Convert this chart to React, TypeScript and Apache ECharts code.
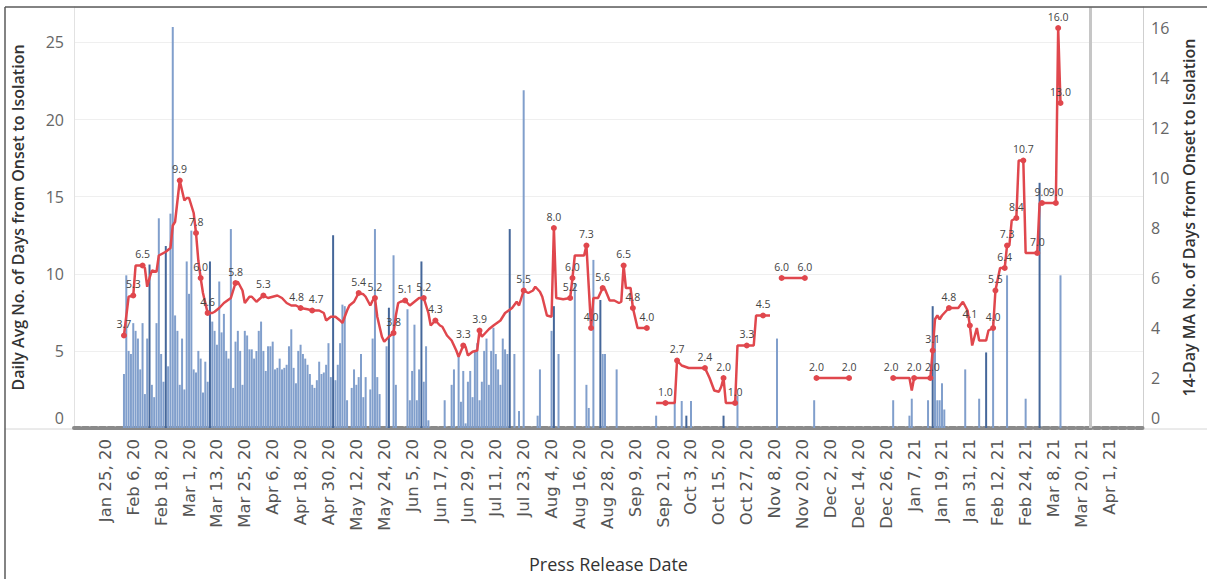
import React, { useEffect, useRef } from "react";
import * as echarts from "echarts";

// ---------- axis definition ----------
const AXIS_START = "2020-01-12";
const AXIS_DAYS = 460;
const LABEL_FIRST = "2020-01-25";
const LABEL_LAST = "2021-04-01";
const LABEL_STEP_DAYS = 12;
const REF_LINE_DATE = "2021-03-24";
const MONTHS = ["Jan", "Feb", "Mar", "Apr", "May", "Jun", "Jul", "Aug", "Sep", "Oct", "Nov", "Dec"];

const leftMax = 27.3;
const leftStep = 5;
const rightMax = 16.84;
const rightStep = 2;

// ---------- daily average bars ----------
const denseBarStart = "2020-02-02";
const denseBars: (number | null)[] = [
  3.5, 9.9, 5.0, 4.8, 6.8, 6.3, 5.8, 3.8, 6.8, 2.2, 5.8, 10.6, 2.8, 2.0, 6.8, 13.6, 4.8, 3.0, 11.8, 4.0,
  13.9, 26.0, 7.3, 6.3, 2.8, 5.8, 2.5, 10.8, 8.7, 12.8, 3.8, 3.6, 5.0, 4.5, 2.3, 4.3, 3.0, 10.8, 6.9, 6.3,
  5.4, 9.5, 6.2, 7.4, 5.0, 4.5, 12.9, 2.6, 5.6, 6.3, 5.0, 2.8, 6.3, 6.0, 5.1, 5.1, 4.5, 5.0, 6.3, 6.9,
  5.0, 3.7, 5.3, 5.3, 5.6, 3.8, 3.9, 4.5, 3.8, 3.9, 4.1, 5.3, 6.4, 3.9, 2.9, 5.0, 5.4, 4.8, 4.5, 4.1,
  3.5, 2.8, 2.6, 3.1, 4.3, 3.5, 3.6, 4.1, 5.5, 3.3, 12.5, 3.1, 4.1, 5.5, 8.0, 7.9, 1.8, null, 2.6, 3.8,
  2.8, 3.3, 4.8, 2.0, 3.3, null, 2.5, 5.8, 12.9, 3.3, 2.2, null, null, 5.3, 7.8, null, 11.2, 2.8, null, null,
  null, null, 7.7, 1.8, 3.7, 6.7, 1.8, 3.8, 10.8, 3.0, 5.3, 0.5, null, null, null, null, null, null, 1.8, null,
  null, 2.8, 3.8, null, 4.8, 1.7, 3.7, 0.3, 3.0, 3.7, 2.0, 5.0, 5.5, 1.8, 3.0, 5.0, 5.8, 2.8, 5.0, 6.5,
  4.8, 3.8, 2.8, 5.8, 5.1, 4.8, 12.9, null, 4.8, null, 1.1, null, 21.9, null, null, null, null, null, 0.8, 3.8,
  null, null, null, null, 6.3, 7.9, null, 4.8,
];
const sparseBarDates = [
  "2020-08-14", "2020-08-19", "2020-08-20", "2020-08-22", "2020-08-25", "2020-08-26", "2020-08-27", "2020-09-01",
  "2020-09-18", "2020-09-26", "2020-09-29", "2020-10-01", "2020-10-03", "2020-10-17", "2020-10-23", "2020-11-09",
  "2020-11-25", "2020-12-29", "2021-01-05", "2021-01-06", "2021-01-13", "2021-01-15", "2021-01-16", "2021-01-17",
  "2021-01-18", "2021-01-19", "2021-01-20", "2021-01-29", "2021-02-04", "2021-02-07", "2021-02-10", "2021-02-16",
  "2021-02-24", "2021-03-02", "2021-03-11",
];
const sparseBarValues = [
  9.4, 2.8, 1.3, 10.9, 8.3, 4.8, 4.8, 3.8,
  0.8, 1.75, 1.75, 0.8, 1.75, 0.8, 2.1, 5.8,
  1.8, 1.8, 0.8, 1.9, 1.8, 7.9, 6.0, 1.8,
  1.8, 2.9, 1.2, 3.8, 1.9, 4.9, 6.9, 9.9,
  1.9, 15.9, 9.9,
];
const darkBarDates = [
  "2020-02-13", "2020-02-20", "2020-03-10", "2020-05-02", "2020-05-26", "2020-06-09", "2020-07-17",
  "2020-08-05", "2020-08-25", "2020-10-01", "2020-10-17", "2021-01-15", "2021-02-07", "2021-03-02",
];

// ---------- 14-day moving average line (null = gap) ----------
const maDates = [
  "2020-02-02", "2020-02-04", "2020-02-06", "2020-02-07", "2020-02-09", "2020-02-10", "2020-02-11", "2020-02-12",
  "2020-02-13", "2020-02-14", "2020-02-16", "2020-02-17", "2020-02-20", "2020-02-22", "2020-02-23", "2020-02-24",
  "2020-02-26", "2020-02-28", "2020-02-29", "2020-03-01", "2020-03-03", "2020-03-04", "2020-03-05", "2020-03-06",
  "2020-03-07", "2020-03-09", "2020-03-11", "2020-03-12", "2020-03-14", "2020-03-16", "2020-03-19", "2020-03-21",
  "2020-03-22", "2020-03-24", "2020-03-25", "2020-03-27", "2020-03-28", "2020-03-30", "2020-04-02", "2020-04-04",
  "2020-04-06", "2020-04-08", "2020-04-10", "2020-04-12", "2020-04-14", "2020-04-16", "2020-04-18", "2020-04-21",
  "2020-04-23", "2020-04-26", "2020-04-28", "2020-04-29", "2020-05-01", "2020-05-03", "2020-05-05", "2020-05-06",
  "2020-05-08", "2020-05-09", "2020-05-11", "2020-05-13", "2020-05-15", "2020-05-16", "2020-05-18", "2020-05-19",
  "2020-05-20", "2020-05-21", "2020-05-23", "2020-05-24", "2020-05-26", "2020-05-28", "2020-05-29", "2020-05-30",
  "2020-05-31", "2020-06-02", "2020-06-04", "2020-06-06", "2020-06-08", "2020-06-10", "2020-06-12", "2020-06-13",
  "2020-06-15", "2020-06-17", "2020-06-18", "2020-06-20", "2020-06-22", "2020-06-24", "2020-06-25", "2020-06-27",
  "2020-06-28", "2020-06-29", "2020-07-01", "2020-07-03", "2020-07-04", "2020-07-05", "2020-07-07", "2020-07-08",
  "2020-07-10", "2020-07-13", "2020-07-15", "2020-07-18", "2020-07-20", "2020-07-21", "2020-07-23", "2020-07-25",
  "2020-07-27", "2020-07-28", "2020-07-30", "2020-07-31", "2020-08-02", "2020-08-04", "2020-08-05", "2020-08-06",
  "2020-08-09", "2020-08-12", "2020-08-13", "2020-08-14", "2020-08-18", "2020-08-19", "2020-08-21", "2020-08-22",
  "2020-08-24", "2020-08-26", "2020-08-27", "2020-08-29", "2020-08-31", "2020-09-02", "2020-09-03", "2020-09-04",
  "2020-09-05", "2020-09-07", "2020-09-08", "2020-09-10", "2020-09-12", "2020-09-14", "2020-09-15",
  "2020-09-18", "2020-09-22", "2020-09-26", "2020-09-27", "2020-09-29", "2020-10-02", "2020-10-09", "2020-10-11",
  "2020-10-13", "2020-10-15", "2020-10-16", "2020-10-17", "2020-10-18", "2020-10-22", "2020-10-23", "2020-10-27",
  "2020-10-30", "2020-10-31", "2020-11-03", "2020-11-06", "2020-11-07",
  "2020-11-11", "2020-11-21", "2020-11-22",
  "2020-11-26", "2020-12-10", "2020-12-11",
  "2020-12-29", "2021-01-05", "2021-01-06", "2021-01-07", "2021-01-14", "2021-01-15", "2021-01-16", "2021-01-17",
  "2021-01-18", "2021-01-19", "2021-01-22", "2021-01-26", "2021-01-28", "2021-01-30", "2021-01-31", "2021-02-01",
  "2021-02-03", "2021-02-04", "2021-02-07", "2021-02-08", "2021-02-10", "2021-02-11", "2021-02-13", "2021-02-15",
  "2021-02-16", "2021-02-17", "2021-02-18", "2021-02-20", "2021-02-21", "2021-02-23", "2021-02-24", "2021-03-01",
  "2021-03-02", "2021-03-03", "2021-03-09", "2021-03-10", "2021-03-11",
];
const maValues: (number | null)[] = [
  3.7, 5.25, 5.3, 6.5, 6.5, 6.5, 6.4, 5.65,
  6.0, 6.3, 6.25, 6.9, 7.05, 7.2, 8.1, 8.25,
  9.9, 9.1, 9.2, 9.2, 8.6, 7.8, 6.7, 6.0,
  5.4, 4.6, 4.6, 4.65, 4.8, 5.0, 5.2, 5.8,
  5.85, 5.5, 5.0, 5.25, 5.25, 5.05, 5.3, 5.2,
  5.25, 5.3, 5.2, 5.0, 4.9, 4.9, 4.8, 4.75,
  4.7, 4.7, 4.6, 4.3, 4.45, 4.45, 4.3, 4.2,
  4.7, 4.9, 5.05, 5.4, 5.35, 5.25, 4.9, 5.1,
  5.2, 4.45, 3.65, 3.45, 3.65, 3.8, 4.5, 5.0,
  5.05, 5.1, 4.9, 5.05, 5.2, 5.2, 4.6, 4.1,
  4.3, 4.1, 4.05, 3.7, 3.5, 3.1, 2.85, 3.3,
  3.25, 2.9, 3.05, 3.1, 3.9, 3.65, 3.85, 3.95,
  4.1, 4.3, 4.6, 4.8, 5.05, 4.9, 5.5, 5.4,
  5.5, 5.65, 5.45, 5.25, 4.5, 4.45, 8.0, 5.2,
  5.15, 5.2, 6.0, 6.9, 6.9, 7.3, 4.0, 5.2,
  5.2, 5.6, 5.55, 5.1, 5.1, 5.0, 5.05, 6.5,
  5.6, 5.6, 4.8, 4.0, 4.0, 4.0, null,
  1.0, 1.0, 1.0, 2.7, 2.5, 2.4, 2.4, 2.0,
  1.5, 1.45, 1.65, 2.0, 1.0, 1.0, 3.3, 3.3,
  3.3, 4.5, 4.5, 4.5, null,
  6.0, 6.0, null,
  2.0, 2.0, null,
  2.0, 2.0, 1.5, 2.0, 2.0, 3.1, 4.35, 4.5,
  4.35, 4.5, 4.8, 4.8, 5.05, 4.7, 4.1, 3.3,
  4.0, 3.5, 3.5, 3.9, 4.0, 5.5, 6.4, 6.4,
  7.3, 7.3, 8.3, 8.4, 10.7, 10.7, 7.0, 7.0,
  9.0, 9.0, 9.0, 16.0, 13.0,
];
const maLabeledDates = [
  "2020-02-02", "2020-02-06", "2020-02-10", "2020-02-26", "2020-03-04", "2020-03-06", "2020-03-09", "2020-03-21",
  "2020-04-02", "2020-04-18", "2020-04-23", "2020-05-13", "2020-05-20", "2020-05-28", "2020-06-02", "2020-06-10",
  "2020-06-15", "2020-06-27", "2020-07-04", "2020-07-23", "2020-08-05", "2020-08-12", "2020-08-13", "2020-08-19",
  "2020-08-21", "2020-08-26", "2020-09-04", "2020-09-08", "2020-09-14", "2020-09-22", "2020-09-27", "2020-10-09",
  "2020-10-17", "2020-10-22", "2020-10-27", "2020-11-03", "2020-11-11", "2020-11-21", "2020-11-26", "2020-12-10",
  "2020-12-29", "2021-01-07", "2021-01-14", "2021-01-15", "2021-01-22", "2021-01-31", "2021-02-10", "2021-02-11",
  "2021-02-15", "2021-02-16", "2021-02-20", "2021-02-23", "2021-03-01", "2021-03-03", "2021-03-09", "2021-03-10",
  "2021-03-11",
];
// small nudges for labels that would touch their neighbours
const labelNudge: Record<string, [number, number]> = {
  "2020-04-18": [-4, 0],
  "2020-04-23": [4, 0],
  "2020-12-29": [-2, 0],
  "2021-01-14": [2, 0],
};

// ---------- helpers ----------
const DAY = 86400000;
const toMs = (iso: string) => {
  const [y, m, d] = iso.split("-").map(Number);
  return Date.UTC(y, m - 1, d);
};
const startMs = toMs(AXIS_START);
const toIdx = (iso: string) => Math.round((toMs(iso) - startMs) / DAY);
const categories: string[] = [];
for (let k = 0; k < AXIS_DAYS; k++) categories.push(new Date(startMs + k * DAY).toISOString().slice(0, 10));
const fmtDate = (iso: string) => {
  const [y, m, d] = iso.split("-");
  return `${MONTHS[Number(m) - 1]} ${Number(d)}, ${y.slice(2)}`;
};

const BAR_COLOR = "#819fcc";
const BAR_DARK = "#45679a";
const LINE_COLOR = "#e0474d";
const FONT = "'Open Sans', 'Noto Sans', sans-serif";

export default function App() {
  const ref = useRef<HTMLDivElement>(null);

  useEffect(() => {
    if (!ref.current) return;
    const chart = echarts.init(ref.current, undefined, { renderer: "svg" });

    const barMap = new Map<string, number>();
    const d0 = toIdx(denseBarStart);
    denseBars.forEach((v, k) => {
      if (v !== null) barMap.set(categories[d0 + k], v);
    });
    sparseBarDates.forEach((d, k) => barMap.set(d, sparseBarValues[k]));
    const darkSet = new Set(darkBarDates);
    const barData = categories.map((c) =>
      barMap.has(c)
        ? { value: barMap.get(c), itemStyle: { color: darkSet.has(c) ? BAR_DARK : BAR_COLOR } }
        : "-"
    );

    const labeledSet = new Set(maLabeledDates);
    const lineData = maDates.map((d, k) => {
      const v = maValues[k];
      if (v === null) return { value: [toIdx(d), "-"] };
      if (labeledSet.has(d)) {
        return {
          value: [toIdx(d), v],
          symbol: "circle",
          symbolSize: 6,
          label: { show: true, offset: labelNudge[d] || [0, 0] },
        };
      }
      return { value: [toIdx(d), v], symbol: "none" };
    });

    const firstLab = toIdx(LABEL_FIRST);
    const lastLab = toIdx(LABEL_LAST);

    const axisNum = { fontSize: 16, color: "#666", fontFamily: FONT };

    chart.setOption({
      animation: false,
      backgroundColor: "#ffffff",
      grid: { left: 74, right: 64, top: 7, bottom: 151, containLabel: false },
      xAxis: {
        type: "category",
        data: categories,
        boundaryGap: true,
        offset: 3,
        axisLine: { show: true, lineStyle: { color: "#8a8a8a", width: 4, type: [6, 2.5] } },
        axisTick: { show: false },
        splitLine: { show: false },
        axisLabel: {
          interval: (i: number) => i >= firstLab && i <= lastLab && (i - firstLab) % LABEL_STEP_DAYS === 0,
          rotate: 90,
          margin: 8,
          fontSize: 16.5,
          color: "#555",
          fontFamily: "'DejaVu Sans', sans-serif",
          formatter: (v: string) => fmtDate(v),
        },
        name: "Press Release Date",
        nameLocation: "middle",
        nameGap: 124,
        nameTextStyle: { fontSize: 18, color: "#333", fontFamily: FONT },
      },
      yAxis: [
        {
          type: "value",
          position: "left",
          min: 0,
          max: leftMax,
          interval: leftStep,
          axisLine: { show: true, lineStyle: { color: "#e2e2e2", width: 1 } },
          axisTick: { show: false },
          splitLine: { show: true, lineStyle: { color: "#efefef", width: 1 } },
          axisLabel: {
            ...axisNum,
            margin: 10,
            formatter: (v: number) => (v === 0 ? "{z|0}" : v % leftStep === 0 ? String(v) : ""),
            rich: { z: { ...axisNum, padding: [0, 0, 20, 0] } },
          },
          name: "Daily Avg No. of Days from Onset to Isolation",
          nameLocation: "middle",
          nameRotate: 90,
          nameGap: 48,
          nameTextStyle: { fontSize: 16, fontWeight: 600, color: "#333", fontFamily: FONT },
        },
        {
          type: "value",
          position: "right",
          min: 0,
          max: rightMax,
          interval: rightStep,
          axisLine: { show: true, lineStyle: { color: "#cfcfcf", width: 1 } },
          axisTick: { show: false },
          splitLine: { show: false },
          axisLabel: {
            ...axisNum,
            margin: 8,
            formatter: (v: number) => (v === 0 ? "{z|0}" : v % rightStep === 0 ? String(v) : ""),
            rich: { z: { ...axisNum, padding: [0, 0, 20, 0] } },
          },
          name: "14-Day MA No. of Days from Onset to Isolation",
          nameLocation: "middle",
          nameRotate: 90,
          nameGap: 38,
          nameTextStyle: { fontSize: 16, fontWeight: 600, color: "#333", fontFamily: FONT },
        },
      ],
      series: [
        {
          type: "bar",
          yAxisIndex: 0,
          data: barData,
          barWidth: 2,
          itemStyle: { color: BAR_COLOR },
          z: 2,
          markLine: {
            silent: true,
            symbol: ["none", "none"],
            label: { show: false },
            lineStyle: { color: "#c6c6c6", width: 3, type: "solid" },
            data: [{ xAxis: REF_LINE_DATE }],
          },
        },
        {
          type: "line",
          yAxisIndex: 1,
          data: lineData,
          symbol: "none",
          showSymbol: true,
          showAllSymbol: true,
          connectNulls: false,
          lineStyle: { color: LINE_COLOR, width: 2.5 },
          itemStyle: { color: LINE_COLOR },
          z: 5,
          label: {
            show: false,
            position: "top",
            distance: 3,
            fontSize: 10.5,
            color: "#444",
            fontFamily: FONT,
            formatter: (p: any) => Number(p.value[1]).toFixed(1),
          },
        },
      ],
      graphic: [
        { type: "line", z: 100, shape: { x1: 5, y1: 7, x2: 1207, y2: 7 }, style: { stroke: "#5a5a5a", lineWidth: 1.5 } },
        { type: "line", z: 100, shape: { x1: 5, y1: 7, x2: 5, y2: 579 }, style: { stroke: "#5a5a5a", lineWidth: 1.5 } },
        { type: "line", z: 0, shape: { x1: 5, y1: 429, x2: 74, y2: 429 }, style: { stroke: "#d6d6d6", lineWidth: 1 } },
        { type: "line", z: 0, shape: { x1: 1143, y1: 429, x2: 1207, y2: 429 }, style: { stroke: "#d6d6d6", lineWidth: 1 } },
      ],
    });

    return () => chart.dispose();
  }, []);

  return (
    <div
      ref={ref}
      style={{ position: "fixed", left: 0, top: 0, width: 1207, height: 579, background: "#fff" }}
    />
  );
}
